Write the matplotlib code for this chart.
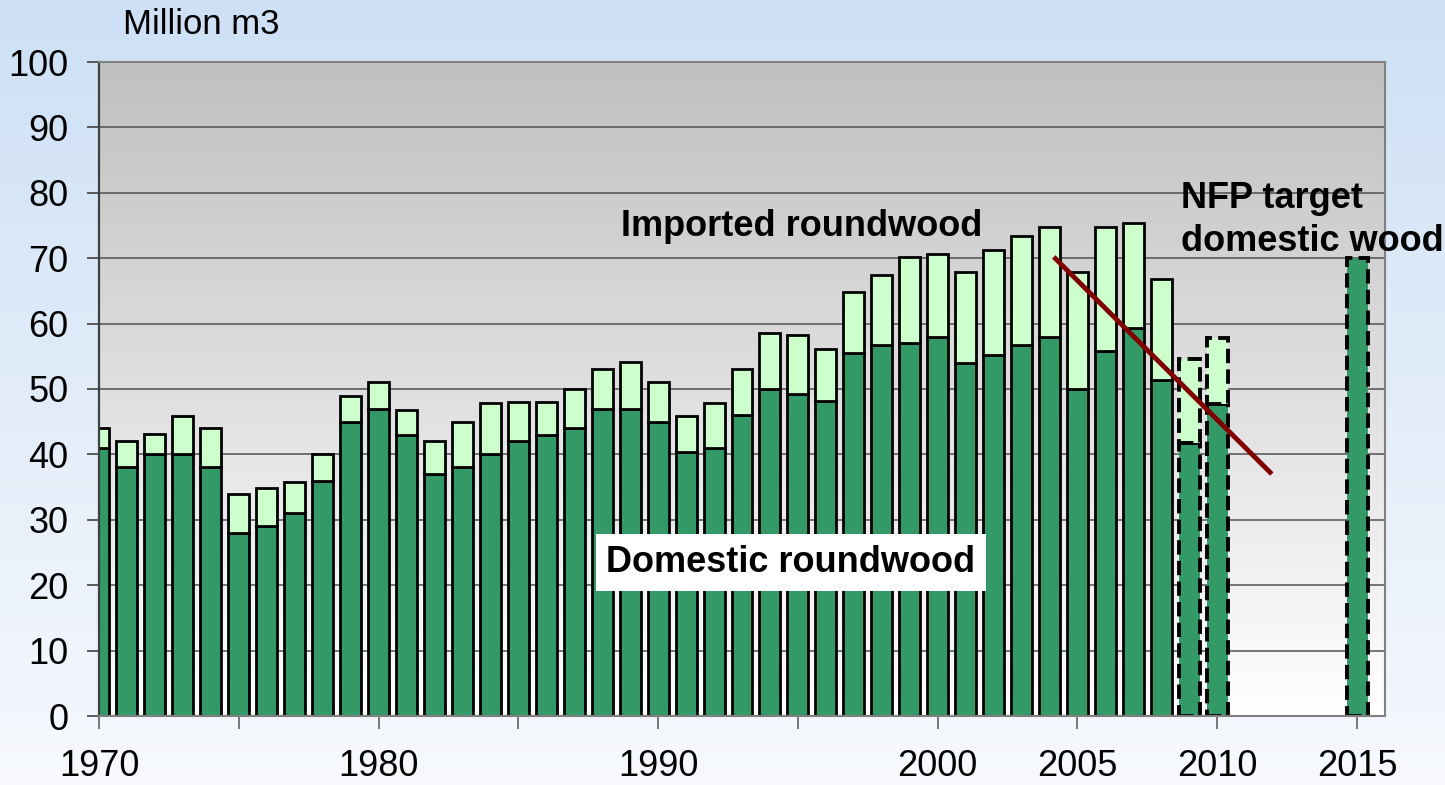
import numpy as np
import matplotlib
matplotlib.use("Agg")
import matplotlib.pyplot as plt
from matplotlib.colors import LinearSegmentedColormap

plt.rcParams['font.family'] = ['Liberation Sans', 'DejaVu Sans']

# ---- data ----
years = list(range(1970, 2011)) + [2015]
domestic = [41, 38, 40, 40, 38, 28, 29, 31, 36, 45,
            47, 43, 37, 38, 40, 42, 43, 44, 47, 47,
            45, 40.3, 41, 46, 50, 49.3, 48.2, 55.5, 56.8, 57.1,
            58, 54, 55.2, 56.8, 58, 50, 55.8, 59.3, 51.4, 41.8,
            47.7, 70]
total = [44.1, 42, 43.1, 45.9, 44.1, 34, 34.8, 35.8, 40, 49,
         51, 46.8, 42, 45, 47.9, 48, 48, 50, 53, 54.1,
         51, 45.8, 47.9, 53, 58.6, 58.3, 56.1, 64.8, 67.5, 70.2,
         70.6, 67.9, 71.3, 73.4, 74.7, 67.9, 74.7, 75.4, 66.8, 54.6,
         57.8, 70]
projected_years = [2009, 2010, 2015]
trend_x = [2004.15, 2011.95]
trend_y = [70.2, 37.0]
xtick_pos = list(range(1970, 2016, 5))
xtick_lab = ['1970', '', '1980', '', '1990', '', '2000', '2005', '2010', '2015']
yticks = list(range(0, 101, 10))

W, H = 1445, 785
fig = plt.figure(figsize=(W / 100, H / 100), dpi=100)

# figure background gradient
bg = fig.add_axes([0, 0, 1, 1], zorder=-10)
bg.axis('off')
cm_bg = LinearSegmentedColormap.from_list('bg', ['#cde0f5', '#f7f9fd'])
bg.imshow(np.linspace(0, 1, 256).reshape(-1, 1), aspect='auto', cmap=cm_bg,
          extent=[0, 1, 0, 1], transform=bg.transAxes)

ax = fig.add_axes([99 / W, 1 - 716 / H, (1385 - 99) / W, (716 - 62) / H])

cm_ax = LinearSegmentedColormap.from_list('ax', ['#ffffff', '#c0c0c0'])
ax.imshow(np.linspace(0, 1, 256).reshape(-1, 1), aspect='auto', cmap=cm_ax,
          origin='lower', extent=[1970, 2016, 0, 100], zorder=0)
ax.set_xlim(1970, 2016)
ax.set_ylim(0, 100)

for y in yticks[1:]:
    ax.axhline(y, color='#505050', lw=1.1, zorder=1)

dark = '#339966'
light = '#ccffcc'
bw = 0.75
for yr, d, t in zip(years, domestic, total):
    ls = '--' if yr in projected_years else '-'
    lw = 2.8 if yr in projected_years else 2.0
    ax.bar(yr, d, width=bw, color=dark, edgecolor='black', linewidth=lw,
           linestyle=ls, zorder=2)
    imp = t - d
    if imp > 0:
        ax.bar(yr, imp, bottom=d, width=bw, color=light, edgecolor='black',
               linewidth=lw, linestyle=ls, zorder=2)

ax.plot(trend_x, trend_y, color='#800000', lw=3.5, zorder=3,
        solid_capstyle='butt')

ax.spines['left'].set_color('#404040')
ax.spines['left'].set_linewidth(1.6)
for s in ['bottom', 'right', 'top']:
    ax.spines[s].set_color('#808080')
    ax.spines[s].set_linewidth(1.5)

ax.set_yticks(yticks)
ax.set_yticklabels([str(v) for v in yticks], fontsize=26)
ax.set_xticks(xtick_pos)
ax.set_xticklabels(xtick_lab, fontsize=26)
ax.tick_params(axis='y', length=9, width=1.2, color='#404040', pad=13)
ax.tick_params(axis='x', length=9, width=1.2, color='#606060', pad=15)

ax.text(1995.14, 74.9, 'Imported roundwood', fontsize=26, fontweight='bold',
        ha='center', va='center', zorder=4)
ax.text(1994.75, 23.5, 'Domestic roundwood', fontsize=26, fontweight='bold',
        ha='center', va='center', zorder=4,
        bbox=dict(boxstyle='square,pad=0.3', fc='white', ec='none'))
ax.text(2008.7, 75.8, 'NFP target\ndomestic wood', fontsize=26,
        fontweight='bold', ha='left', va='center', linespacing=1.3,
        zorder=4, clip_on=False)
fig.text(123 / W, 1 - 25 / H, 'Million m3', fontsize=25, ha='left',
         va='center')

fig.savefig('out.png', dpi=100)
